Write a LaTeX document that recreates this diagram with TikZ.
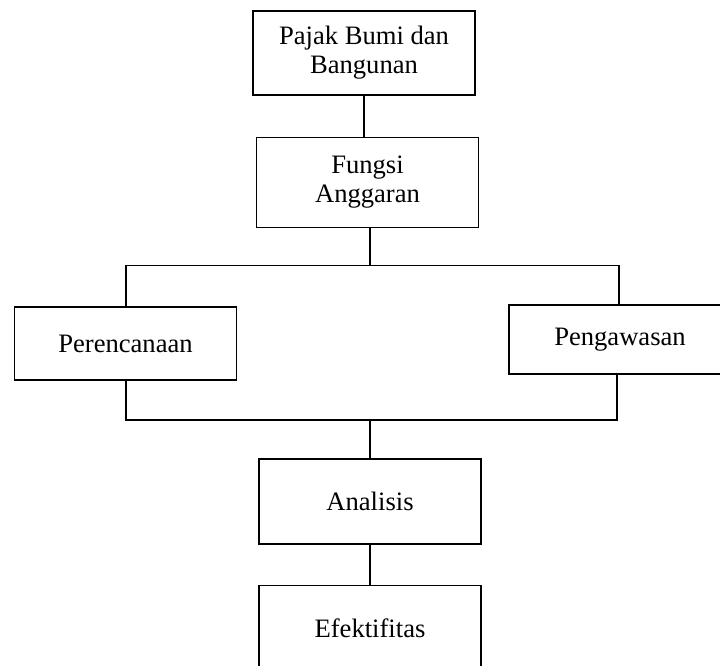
\documentclass[tikz,border=0pt]{standalone}
\usepackage{fontspec}
\setmainfont{Liberation Serif}
\usetikzlibrary{positioning}

\begin{document}
\begin{tikzpicture}[x=0.5pt, y=-0.5pt,
    box/.style={draw, line width=0.6pt, minimum width=111pt, inner sep=0pt,
        align=center, font=\fontsize{13.3}{14.6}\selectfont},
    conn/.style={line width=0.9pt},
]
\useasboundingbox (0,0) rectangle (720,666);
\clip (0,0) rectangle (720,666);

\node (Pajak) [box, minimum height=42pt] at (364,53) {Pajak Bumi dan\\Bangunan};
\node (Fungsi) [box, minimum height=45pt, below=20.5pt of Pajak, xshift=1.75pt] {Fungsi\\Anggaran};
\node (Renc) [box, minimum height=36.5pt] at (125.5,343.5) {Perencanaan};
\node (Awas) [box, minimum height=34.5pt] at (620,339.5) {Pengawasan};
\node (Anal) [box, minimum height=42.5pt] at (370,501.5) {Analisis};
\node (Efek) [box, minimum height=43pt, below=20pt of Anal] {Efektifitas};

% bus lines
\coordinate (TL) at (126,265.5);
\coordinate (TM) at (370,265.5);
\coordinate (TR) at (619,265.5);
\coordinate (BL) at (126,420);
\coordinate (BM) at (370,420);
\coordinate (BR) at (617,420);

\draw[conn] (Pajak.south) -- (Pajak.south |- Fungsi.north);
\draw[conn] (Fungsi.south -| TM) -- (TM);
\draw[conn] (Renc.north -| TL) -- (TL) -- (TR) -- (Awas.north -| TR);
\draw[conn] (Renc.south -| BL) -- (BL) -- (BR) -- (Awas.south -| BR);
\draw[conn] (BM) -- (Anal.north -| BM);
\draw[conn] (Anal) -- (Efek);
\end{tikzpicture}
\end{document}
